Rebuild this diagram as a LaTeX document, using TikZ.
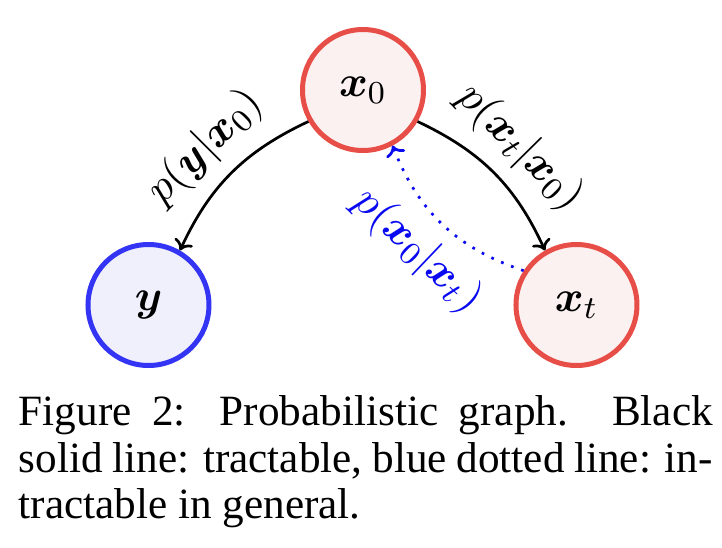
\documentclass[tikz,border=0pt]{standalone}
\usepackage{amsmath}
\usepackage[no-math]{fontspec}
\newfontfamily\capfont{Liberation Serif}
\usetikzlibrary{arrows.meta}
\definecolor{nodered}{RGB}{232,78,72}
\definecolor{nodepink}{RGB}{251,241,241}
\definecolor{nodeblue}{RGB}{52,52,245}
\definecolor{nodeblfill}{RGB}{240,240,252}
\definecolor{dotblue}{RGB}{10,10,240}
\begin{document}
\begin{tikzpicture}[x=0.25pt,y=-0.25pt,
  var/.style={circle, minimum size=30.25pt, inner sep=0pt, line width=1.25pt, font=\fontsize{10.9}{13}\selectfont},
  redvar/.style={var, draw=nodered, fill=nodepink},
  bluevar/.style={var, draw=nodeblue, fill=nodeblfill},
  solidedge/.style={line width=0.68pt, -{To[length=2.5pt,width=5pt]}},
  dotedge/.style={dotblue, line width=0.68pt, dash pattern=on 0.68pt off 2pt, -{To[length=2.5pt,width=5pt]}},
  elabel/.style={font=\fontsize{10.9}{13}\selectfont, sloped, midway},
  captext/.style={font=\capfont\fontsize{10.8}{11.6}\selectfont, inner sep=0pt, anchor=base west}
]
\useasboundingbox (0,0) rectangle (722,548);
\node[redvar] (x0) at (363,90) {$\boldsymbol{x}_0$};
\node[bluevar] (y) at (148.5,305) {$\boldsymbol{y}$};
\node[redvar] (xt) at (576.5,305) {$\boldsymbol{x}_t$};
\draw[solidedge] (x0.210) to[bend right=20] node[elabel, above] {$p(\boldsymbol{y}|\boldsymbol{x}_0)$} (y.60);
\draw[solidedge] (x0.-30) to[bend left=20] node[elabel, above] {$p(\boldsymbol{x}_t|\boldsymbol{x}_0)$} (xt.120);
\draw[dotedge] (xt.147) to[bend left=25] node[elabel, below, text=dotblue] {$p(\boldsymbol{x}_0|\boldsymbol{x}_t)$} (x0.-62);
\node[captext] (cap1) at (18,425) {\makebox[173.5pt][s]{Figure 2: Probabilistic graph. Black}};
\node[captext] (cap2) at (18,472) {\makebox[173.5pt][s]{solid line: tractable, blue dotted line: in-}};
\node[captext] (cap3) at (18,518) {tractable in general.};
\end{tikzpicture}
\end{document}
